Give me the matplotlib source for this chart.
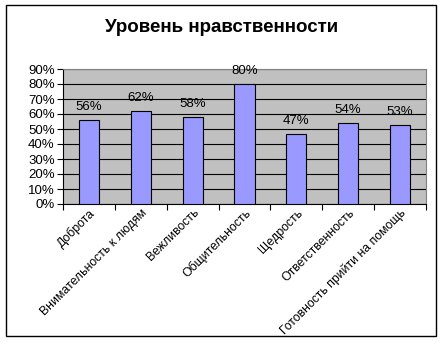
import matplotlib
matplotlib.use('Agg')
import matplotlib.pyplot as plt
import matplotlib.transforms as mtransforms
from matplotlib.patches import Rectangle
import numpy as np

plt.rcParams['font.family'] = ['Liberation Sans', 'DejaVu Sans']

title = 'Уровень нравственности'
categories = ['Доброта', 'Внимательность к людям', 'Вежливость', 'Общительность',
              'Щедрость', 'Ответственность', 'Готовность прийти на помощь']
values = [56, 62, 58, 80, 47, 54, 53]
yticks = [0, 10, 20, 30, 40, 50, 60, 70, 80, 90]

W, H = 444, 353
fig = plt.figure(figsize=(W / 100, H / 100), dpi=100)
fig.patch.set_facecolor('white')

# outer chart border
fig.patches.append(Rectangle((6 / W, 1 - 336 / H), 430 / W, 331 / H,
                             transform=fig.transFigure, fill=False,
                             edgecolor='black', linewidth=1))

ax = fig.add_axes([63 / W, 1 - 204 / H, 363 / W, 135 / H])
ax.set_facecolor('#c0c0c0')

x = np.arange(len(categories))
ax.bar(x, values, width=0.39, color='#9999ff', edgecolor='black', linewidth=0.8, zorder=3)

for xi, v in zip(x, values):
    ax.annotate(f'{v}%', (xi, v), xytext=(0, 5), textcoords='offset points',
                ha='center', va='bottom', fontsize=9.5, zorder=4)

ax.set_xlim(-0.5, len(categories) - 0.5)
ax.set_ylim(0, 90)
ax.set_yticks(yticks)
ax.set_yticklabels([f'{t}%' for t in yticks], fontsize=9.5)
ax.yaxis.grid(True, color='black', linewidth=0.8, zorder=1)
ax.set_axisbelow(True)

ax.set_xticks(np.arange(len(categories) + 1) - 0.5)
ax.set_xticklabels([])
ax.set_xticks(x, minor=True)
labels = ax.set_xticklabels(categories, minor=True, rotation=45, ha='right', va='top',
                            rotation_mode='anchor', fontsize=8.8)
shift = mtransforms.ScaledTranslation(-13 / 100, 0, fig.dpi_scale_trans)
for lab in labels:
    lab.set_transform(lab.get_transform() + shift)
ax.tick_params(axis='x', which='minor', length=0, pad=2)
ax.tick_params(axis='x', which='major', length=4, width=0.8, direction='out')
ax.tick_params(axis='y', length=4, width=0.8, direction='out', pad=2)

for side in ['top', 'right']:
    ax.spines[side].set_color('#808080')
    ax.spines[side].set_linewidth(0.8)
ax.spines['left'].set_linewidth(0.8)
ax.spines['bottom'].set_linewidth(0.8)

fig.text(222 / W, 1 - 27 / H, title, ha='center', va='center',
         fontsize=13.5, fontweight='bold')

fig.savefig('out.png', dpi=100)
